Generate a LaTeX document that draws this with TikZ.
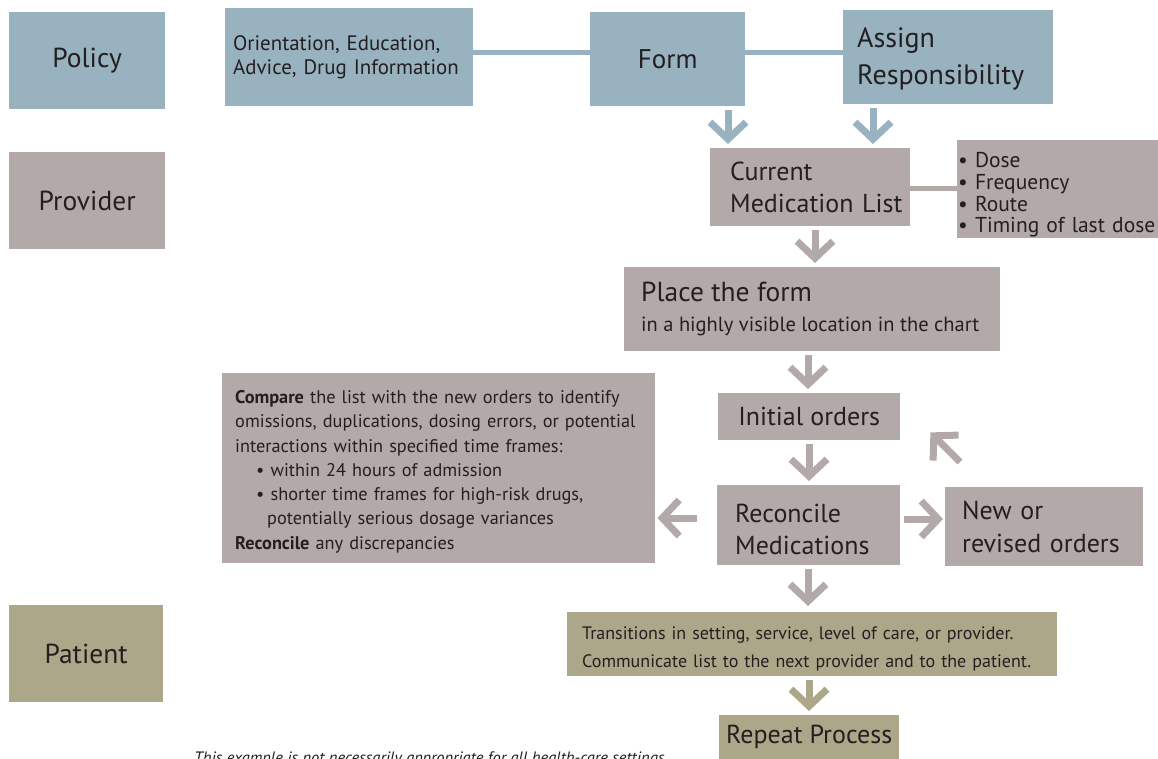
\documentclass[tikz,border=0pt]{standalone}
\usepackage{fontspec}
\setmainfont{PT Sans}
\usetikzlibrary{arrows.meta,positioning}
\definecolor{ink}{HTML}{231F20}
\definecolor{policy}{HTML}{99B2BF}
\definecolor{provider}{HTML}{B4A9A9}
\definecolor{patient}{HTML}{ACA789}

\begin{document}
\begin{tikzpicture}[x=1pt,y=-1pt,
  box/.style={anchor=north west,inner ysep=0pt,text=ink,align=left},
  lane/.style={box,align=center,minimum width=156pt,minimum height=97pt,font=\fontsize{27.5}{30}\selectfont},
  big/.style={font=\fontsize{26}{32}\selectfont},
  small/.style={font=\fontsize{18.3}{24.3}\selectfont},
  arr/.style={-{Straight Barb[length=17pt,width=36pt,line cap=butt,line join=miter]},line width=7pt,shorten <=4pt,shorten >=4pt},
  barr/.style={arr,draw=policy},
  marr/.style={arr,draw=provider},
  parr/.style={arr,draw=patient},
  link/.style={line width=5pt}
]
\useasboundingbox (0,0) rectangle (1158,759);
\clip (0,0) rectangle (1158,759);
% swim lanes
\node[lane,fill=policy] (policy) at (9,12) {Policy};
\node[lane,fill=provider] (provider) at (9,152) {Provider};
\node[lane,fill=patient,minimum width=154pt] (patient) at (9,605) {Patient};
% policy row
\node[box,fill=policy,minimum width=248pt,minimum height=98pt,text width=232pt,inner xsep=8pt,font=\fontsize{20.9}{24}\selectfont] (orient) at (225,8) {Orientation, Education,\\Advice, Drug Information};
\node[box,fill=policy,align=center,minimum width=155pt,minimum height=94pt,font=\fontsize{27}{30}\selectfont] (form) at (590,12) {Form};
\node[box,fill=policy,minimum width=210pt,minimum height=94pt,text width=182pt,inner xsep=14pt,font=\fontsize{28}{37}\selectfont] (assign) at (843,10) {\rule{0pt}{24pt}Assign\\Responsibility};
% provider part
\node[box,big,fill=provider,minimum width=200pt,minimum height=78pt,text width=160pt,inner xsep=20pt] (cml) at (710,148) {Current\\Medication~List};
\node[box,fill=provider,minimum width=201pt,minimum height=98pt,text width=199pt,inner xsep=1pt,font=\fontsize{21.5}{21.7}\selectfont] (dose) at (957,140) {\rule{0pt}{27pt}\textbullet\ Dose\\\textbullet\ Frequency\\\textbullet\ Route\\\textbullet\ Timing of last dose};
\node[box,fill=provider,align=flush left,minimum width=376pt,minimum height=84pt,text width=342pt,inner xsep=17pt,font=\fontsize{20.5}{30}\selectfont] (place) at (624,267) {{\fontsize{27.5}{30}\selectfont Place the form}\\in a highly visible location in the chart};
\node[box,fill=provider,align=center,minimum width=182pt,minimum height=47pt,font=\fontsize{26}{30}\selectfont] (init) at (718,393) {Initial orders};
\node[box,small,fill=provider,minimum width=433pt,minimum height=190pt,text width=407pt,inner xsep=13pt] (compare) at (222,373) {\rule{0pt}{20pt}\textbf{Compare} the list with the new orders to identify\\omissions, duplications, dosing errors, or potential\\interactions within specified time frames:\\\hspace*{21pt}\textbullet\ within 24 hours of admission\\\hspace*{21pt}\textbullet\ shorter time frames for high-risk drugs,\\\hspace*{32pt}potentially serious dosage variances\\\textbf{Reconcile} any discrepancies};
\node[box,big,fill=provider,minimum width=183pt,minimum height=80pt,text width=147pt,inner xsep=18pt] (recon) at (717,485) {\rule{0pt}{26pt}Reconcile\\Medications};
\node[box,fill=provider,minimum width=198pt,minimum height=79pt,text width=164pt,inner xsep=17pt,font=\fontsize{26}{33}\selectfont] (newrev) at (945,487) {New or\\revised~orders};
% patient part
\node[box,fill=patient,minimum width=490pt,minimum height=64pt,text width=460pt,inner xsep=15pt,font=\fontsize{18}{28}\selectfont] (trans) at (567,612) {\rule{0pt}{22pt}Transitions in setting, service, level of care, or provider.\\Communicate list to the next provider and to the patient.};
\node[box,fill=patient,align=center,minimum width=180pt,minimum height=44pt,font=\fontsize{26}{30}\selectfont] (repeat) at (719,715) {Repeat Process};
\node[anchor=base west,inner sep=0pt,text=ink,font=\fontsize{16.5}{19}\selectfont\itshape] (note) at (194,763) {This example is not necessarily appropriate for all health-care settings.};
% links and arrows
\draw[link,draw=policy] (orient.east |- 0,53) -- (form.west |- 0,53);
\draw[link,draw=policy] (form.east |- 0,53) -- (assign.west |- 0,53);
\draw[link,draw=provider] (cml.east |- 0,189) -- (dose.west |- 0,189);
\draw[barr] (728,0 |- form.south) -- (728,0 |- cml.north);
\draw[barr] (873,0 |- assign.south) -- (873,0 |- cml.north);
\draw[marr] (815,0 |- cml.south) -- (815,0 |- place.north);
\draw[marr] (808,0 |- place.south) -- (808,0 |- init.north);
\draw[marr] (809,0 |- init.south) -- (809,0 |- recon.north);
\draw[marr,shorten <=20pt,shorten >=2pt] (recon.west |- 0,518) -- (compare.east |- 0,518);
\draw[marr,shorten >=2pt] (recon.east |- 0,519) -- (newrev.west |- 0,519);
\draw[marr,shorten <=0pt,shorten >=0pt] ([shift={(15,-25)}]newrev.north west) -- ([shift={(30,-8)}]init.south east);
\draw[marr,shorten >=6pt] (808,0 |- recon.south) -- (808,0 |- trans.north);
\draw[parr] (809,0 |- trans.south) -- (809,0 |- repeat.north);
\end{tikzpicture}
\end{document}
